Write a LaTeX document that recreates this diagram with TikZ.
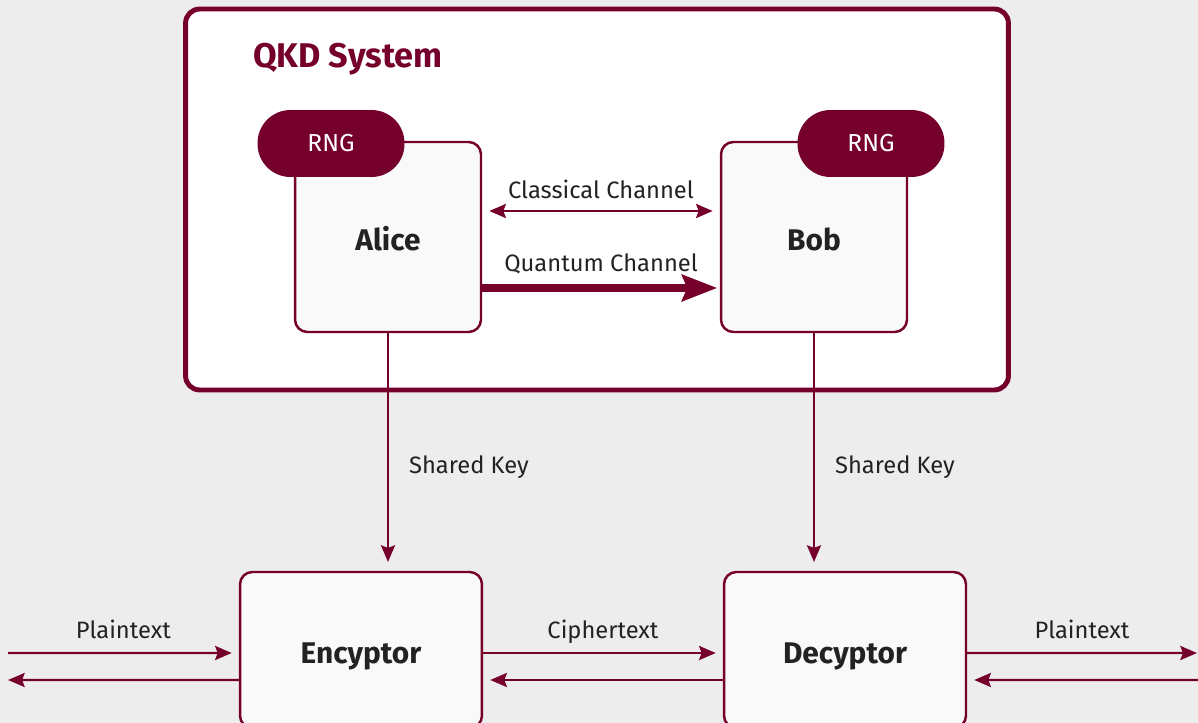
\documentclass[tikz,border=0pt]{standalone}
\usepackage{fontspec}
\setmainfont{Fira Sans}
\usetikzlibrary{positioning, arrows.meta, calc}

\definecolor{qkdred}{RGB}{118,0,44}
\definecolor{pagegray}{RGB}{237,237,237}
\definecolor{boxfill}{RGB}{249,249,249}
\definecolor{labeltext}{RGB}{34,34,34}

\begin{document}
\begin{tikzpicture}[
    x=0.02cm, y=-0.02cm,
    frame/.style={draw=qkdred, line width=2.8pt, fill=white, rounded corners=8pt,
                  minimum width=16.46cm, minimum height=7.62cm},
    party/.style={draw=qkdred, line width=1.4pt, fill=boxfill, rounded corners=7pt,
                  minimum width=3.72cm, minimum height=3.8cm, text=labeltext,
                  text height=15.3pt, text depth=0pt,
                  font=\fontsize{17}{20}\selectfont\bfseries},
    cipherbox/.style={party, minimum width=4.84cm, minimum height=3.12cm},
    rng/.style={fill=qkdred, text=white, rounded corners=0.66cm,
                minimum width=2.94cm, minimum height=1.34cm,
                font=\fontsize{14}{16}\selectfont},
    link/.style={draw=qkdred, line width=1.4pt, -{Stealth[length=9.5pt, width=8pt, inset=1.5pt]}},
    lbl/.style={text=labeltext, text height=7.2pt, text depth=2pt,
                font=\fontsize{13.5}{16}\selectfont},
]

    % Background
    \clip (0,0) rectangle (1198,723);
    \fill[pagegray] (0,0) rectangle (1198,723);

    % QKD system frame
    \node[frame] (qkd) at (597,199.5) {};
    \node[anchor=west, text=qkdred, font=\fontsize{19.5}{22}\selectfont\bfseries] (title) at (247,59) {QKD System};

    % Alice and Bob
    \node[party] (alice) at (388,237) {Alice};
    \node[party] (bob) at (814,237) {Bob};
    \node[rng] (rngA) at (331,143.5) {RNG};
    \node[rng] (rngB) at (871,143.5) {RNG};

    % Channels
    \draw[draw=qkdred, line width=1.4pt, {Stealth[length=9.5pt, width=8pt, inset=1.5pt]}-{Stealth[length=9.5pt, width=8pt, inset=1.5pt]},
          shorten <=4pt, shorten >=4pt]
        ([yshift=0.52cm]alice.east) -- node[lbl, above=1pt] (classical) {Classical Channel} ([yshift=0.52cm]bob.west);
    \draw[draw=qkdred, line width=4pt, -{Stealth[length=20pt, width=15pt, inset=3pt]}, shorten >=1.5pt]
        ([yshift=-1.02cm]alice.east) -- node[lbl, above=2pt] (quantum) {Quantum Channel} ([yshift=-1.02cm]bob.west);

    % Encryptor and Decryptor
    \node[cipherbox] (enc) at (361,650) {Encyptor};
    \node[cipherbox] (dec) at (845,650) {Decyptor};

    % Shared keys
    \draw[link, shorten >=5pt] (alice.south) -- node[lbl, pos=0.57, right=8pt] (keyA) {Shared Key} (alice.south |- enc.north);
    \draw[link, shorten >=5pt] (bob.south) -- node[lbl, pos=0.57, right=8pt] (keyB) {Shared Key} (bob.south |- dec.north);

    % Plaintext and ciphertext flows
    \coordinate (inL) at (8,653);
    \coordinate (outL) at (8,680);
    \coordinate (outR) at (1197,653);
    \coordinate (inR) at (1198,680);

    \draw[link, shorten >=4pt] (inL) -- node[lbl, above=2pt] (plainL) {Plaintext} ([yshift=-0.06cm]enc.west);
    \draw[link] ([yshift=-0.6cm]enc.west) -- (outL);

    \draw[link, shorten >=4pt] ([yshift=-0.06cm]enc.east) -- node[lbl, above=2pt] (cipher) {Ciphertext} ([yshift=-0.06cm]dec.west);
    \draw[link, shorten >=4pt] ([yshift=-0.6cm]dec.west) -- ([yshift=-0.6cm]enc.east);

    \draw[link] ([yshift=-0.06cm]dec.east) -- node[lbl, above=2pt] (plainR) {Plaintext} (outR);
    \draw[link, shorten >=4pt] (inR) -- ([yshift=-0.6cm]dec.east);

\end{tikzpicture}
\end{document}
